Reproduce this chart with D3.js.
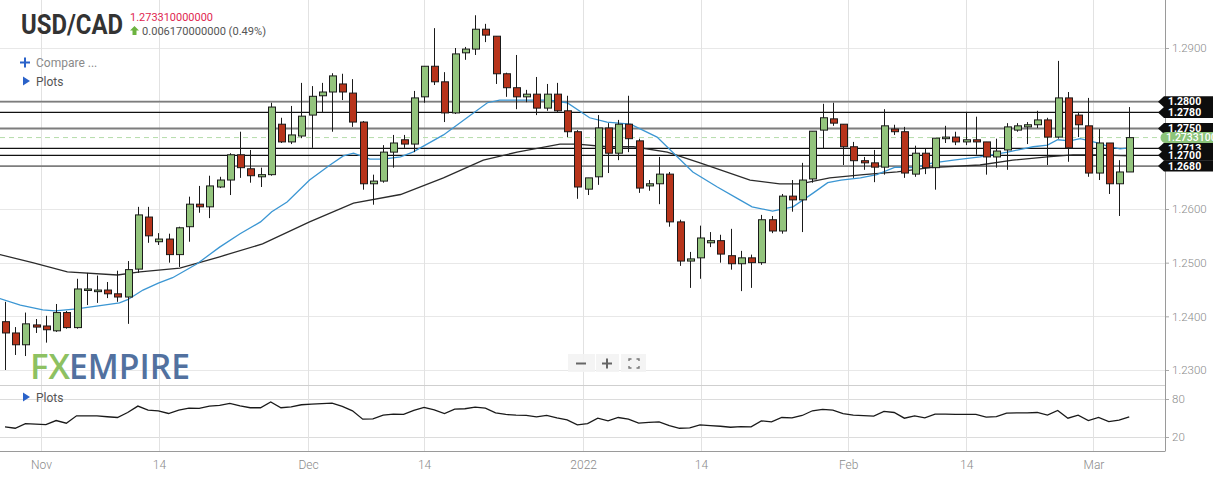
<!DOCTYPE html>
<html>
<head>
<meta charset="utf-8">
<script src="https://cdn.jsdelivr.net/npm/d3@7.9.0/dist/d3.min.js"></script>
<style>
  html, body { margin: 0; padding: 0; background: #fff; }
  svg { display: block; font-family: Roboto, 'Noto Sans', sans-serif; }
</style>
</head>
<body>
<svg id="chart" width="1213" height="482"></svg>
<script>
// daily USD/CAD candles, Oct 29 2021 .. Mar 4 2022 (index = candle number)
const opens = [
  1.2390, 1.2369, 1.2347, 1.2384, 1.2382, 1.2373, 1.2407, 1.2379, 1.2449, 1.2446,
  1.2449, 1.2442, 1.2436, 1.2488, 1.2585, 1.2539, 1.2544, 1.2515, 1.2567, 1.2609,
  1.2604, 1.2641, 1.2654, 1.2701, 1.2675, 1.2660, 1.2664, 1.2758, 1.2725, 1.2736,
  1.2775, 1.2811, 1.2818, 1.2833, 1.2816, 1.2762, 1.2647, 1.2652, 1.2706, 1.2729,
  1.2721, 1.2809, 1.2866, 1.2837, 1.2779, 1.2891, 1.2898, 1.2935, 1.2922, 1.2852,
  1.2826, 1.2809, 1.2814, 1.2788, 1.2814, 1.2783, 1.2744, 1.2637, 1.2660, 1.2751,
  1.2704, 1.2758, 1.2727, 1.2643, 1.2647, 1.2665, 1.2576, 1.2503, 1.2509, 1.2537,
  1.2541, 1.2513, 1.2498, 1.2509, 1.2500, 1.2580, 1.2559, 1.2624, 1.2617, 1.2656,
  1.2747, 1.2768, 1.2758, 1.2716, 1.2690, 1.2686, 1.2678, 1.2749, 1.2744, 1.2665,
  1.2704, 1.2677, 1.2731, 1.2734, 1.2725, 1.2729, 1.2725, 1.2697, 1.2710, 1.2747,
  1.2753, 1.2757, 1.2766, 1.2734, 1.2807, 1.2775, 1.2755, 1.2667, 1.2723, 1.2647,
  1.2669
];
const highs = [
  1.2427, 1.2380, 1.2407, 1.2395, 1.2401, 1.2423, 1.2410, 1.2470, 1.2481, 1.2476,
  1.2464, 1.2485, 1.2503, 1.2604, 1.2604, 1.2555, 1.2554, 1.2567, 1.2623, 1.2643,
  1.2662, 1.2660, 1.2704, 1.2744, 1.2710, 1.2677, 1.2798, 1.2770, 1.2792, 1.2835,
  1.2829, 1.2835, 1.2853, 1.2852, 1.2842, 1.2764, 1.2664, 1.2719, 1.2738, 1.2738,
  1.2820, 1.2866, 1.2937, 1.2855, 1.2900, 1.2902, 1.2961, 1.2945, 1.2922, 1.2854,
  1.2887, 1.2822, 1.2846, 1.2833, 1.2835, 1.2811, 1.2747, 1.2658, 1.2775, 1.2760,
  1.2766, 1.2811, 1.2731, 1.2654, 1.2697, 1.2669, 1.2580, 1.2520, 1.2569, 1.2557,
  1.2552, 1.2563, 1.2522, 1.2515, 1.2589, 1.2587, 1.2628, 1.2654, 1.2686, 1.2745,
  1.2796, 1.2798, 1.2758, 1.2725, 1.2697, 1.2710, 1.2786, 1.2757, 1.2753, 1.2718,
  1.2712, 1.2732, 1.2755, 1.2744, 1.2781, 1.2772, 1.2725, 1.2731, 1.2760, 1.2760,
  1.2762, 1.2783, 1.2770, 1.2876, 1.2818, 1.2781, 1.2807, 1.2749, 1.2723, 1.2691,
  1.2790
];
const lows = [
  1.2300, 1.2328, 1.2326, 1.2369, 1.2351, 1.2371, 1.2377, 1.2377, 1.2421, 1.2425,
  1.2434, 1.2427, 1.2386, 1.2481, 1.2537, 1.2533, 1.2500, 1.2492, 1.2539, 1.2593,
  1.2583, 1.2639, 1.2626, 1.2658, 1.2649, 1.2641, 1.2662, 1.2723, 1.2721, 1.2732,
  1.2714, 1.2779, 1.2744, 1.2803, 1.2753, 1.2636, 1.2608, 1.2649, 1.2677, 1.2714,
  1.2706, 1.2798, 1.2831, 1.2762, 1.2777, 1.2878, 1.2887, 1.2911, 1.2833, 1.2809,
  1.2786, 1.2799, 1.2775, 1.2783, 1.2779, 1.2734, 1.2619, 1.2626, 1.2645, 1.2667,
  1.2691, 1.2706, 1.2630, 1.2634, 1.2609, 1.2567, 1.2494, 1.2453, 1.2470, 1.2529,
  1.2500, 1.2487, 1.2447, 1.2453, 1.2496, 1.2555, 1.2554, 1.2595, 1.2557, 1.2649,
  1.2712, 1.2755, 1.2682, 1.2658, 1.2673, 1.2650, 1.2664, 1.2738, 1.2658, 1.2660,
  1.2665, 1.2636, 1.2723, 1.2719, 1.2719, 1.2701, 1.2664, 1.2677, 1.2673, 1.2744,
  1.2721, 1.2751, 1.2682, 1.2731, 1.2688, 1.2734, 1.2660, 1.2654, 1.2628, 1.2587,
  1.2669
];
const closes = [
  1.2369, 1.2347, 1.2386, 1.2380, 1.2375, 1.2407, 1.2379, 1.2451, 1.2451, 1.2449,
  1.2442, 1.2436, 1.2487, 1.2589, 1.2550, 1.2544, 1.2515, 1.2565, 1.2609, 1.2604,
  1.2643, 1.2654, 1.2701, 1.2677, 1.2662, 1.2664, 1.2790, 1.2725, 1.2738, 1.2773,
  1.2810, 1.2818, 1.2848, 1.2818, 1.2762, 1.2647, 1.2652, 1.2706, 1.2723, 1.2721,
  1.2807, 1.2866, 1.2837, 1.2779, 1.2889, 1.2898, 1.2935, 1.2924, 1.2852, 1.2826,
  1.2809, 1.2814, 1.2788, 1.2814, 1.2783, 1.2744, 1.2641, 1.2658, 1.2751, 1.2704,
  1.2758, 1.2731, 1.2639, 1.2647, 1.2665, 1.2576, 1.2503, 1.2507, 1.2546, 1.2541,
  1.2516, 1.2498, 1.2509, 1.2500, 1.2580, 1.2559, 1.2624, 1.2617, 1.2654, 1.2745,
  1.2770, 1.2760, 1.2716, 1.2690, 1.2686, 1.2678, 1.2755, 1.2744, 1.2667, 1.2704,
  1.2677, 1.2732, 1.2734, 1.2725, 1.2729, 1.2725, 1.2697, 1.2708, 1.2753, 1.2755,
  1.2757, 1.2766, 1.2734, 1.2807, 1.2714, 1.2757, 1.2667, 1.2723, 1.2647, 1.2669,
  1.2733
];

// moving averages: [candle index, price]
const maFast = [
  [-0.5, 1.2433], [1.5, 1.2421], [3.7, 1.2412], [4.9, 1.2410], [7, 1.2414], [9.3, 1.2420],
  [11.2, 1.2425], [12, 1.2431], [13.5, 1.2449], [15, 1.2462], [16.4, 1.2472], [18.8, 1.2498],
  [21, 1.2529], [23, 1.2554], [25, 1.2576], [26.1, 1.2595], [27.6, 1.2613], [29.8, 1.2654],
  [31.8, 1.2682], [33.1, 1.2699], [34.1, 1.2704], [35.7, 1.2693], [37, 1.2693], [38.7, 1.2697],
  [39.9, 1.2706], [42.9, 1.2738], [45.2, 1.2770], [47.2, 1.2798], [48.4, 1.2803], [53.3, 1.2803],
  [55, 1.2798], [57.2, 1.2770], [58.9, 1.2762], [61.2, 1.2758], [63.8, 1.2734], [65.8, 1.2697],
  [67.3, 1.2669], [69.7, 1.2641], [71.9, 1.2617], [73.1, 1.2604], [75.1, 1.2596], [77.1, 1.2604],
  [79.1, 1.2630], [80.5, 1.2649], [81.8, 1.2654], [83.7, 1.2658], [85.3, 1.2664], [87.1, 1.2678],
  [88.9, 1.2677], [90.8, 1.2686], [92.8, 1.2691], [95.4, 1.2697], [98.1, 1.2706], [100.6, 1.2716],
  [102, 1.2719], [103, 1.2729], [104.2, 1.2727], [105.2, 1.2731], [106.9, 1.2723], [108.1, 1.2716],
  [109.1, 1.2712], [110, 1.2714]
];
const maSlow = [
  [-0.5, 1.2515], [2.7, 1.2500], [6.1, 1.2483], [11, 1.2477], [13.2, 1.2483], [17.1, 1.2490],
  [21, 1.2511], [25.2, 1.2535], [29.8, 1.2576], [34.1, 1.2611], [38.7, 1.2627], [42.9, 1.2658],
  [46.8, 1.2691], [50.1, 1.2706], [54.3, 1.2721], [56, 1.2721], [58.9, 1.2716], [61.5, 1.2716],
  [64.8, 1.2706], [68, 1.2686], [72.9, 1.2654], [75.8, 1.2647], [77.8, 1.2647], [80.7, 1.2658],
  [84, 1.2664], [87.3, 1.2669], [90.5, 1.2677], [95.4, 1.2682], [98.6, 1.2691], [102, 1.2697],
  [104.5, 1.2701], [106.9, 1.2701], [110, 1.2699]
];

// lower panel oscillator, one value per candle
const oscValues = [
  36.0, 33.8, 41.2, 40.4, 39.6, 46.0, 41.8, 53.4, 53.4, 53.4,
  52.0, 50.8, 58.7, 68.8, 62.5, 61.4, 57.1, 62.5, 65.7, 65.1,
  68.8, 69.9, 73.0, 69.3, 66.2, 66.2, 75.2, 66.2, 67.7, 70.9,
  72.0, 72.8, 73.6, 68.3, 61.4, 48.1, 48.6, 54.5, 56.0, 55.6,
  61.9, 66.7, 63.0, 57.1, 64.1, 64.6, 67.2, 65.7, 58.2, 55.6,
  54.5, 54.0, 51.8, 54.0, 50.2, 47.0, 39.1, 41.2, 49.7, 45.5,
  50.8, 48.1, 41.8, 43.0, 43.9, 38.0, 33.8, 34.3, 39.1, 38.0,
  37.0, 35.4, 36.4, 35.9, 45.5, 43.9, 50.8, 50.2, 54.0, 61.4,
  63.5, 62.5, 57.0, 54.5, 53.7, 52.9, 60.3, 58.7, 49.7, 53.4,
  50.2, 56.1, 56.1, 55.6, 55.6, 55.6, 51.3, 52.3, 57.7, 58.0,
  58.2, 58.7, 54.5, 61.9, 49.7, 54.5, 46.0, 50.8, 44.4, 46.5,
  51.8
];

// axis ticks
const dateTickPos = [3.52, 15.07, 29.65, 41.0, 56.57, 68.1, 82.5, 94.05, 106.5];
const dateTickLabels = ['Nov', '14', 'Dec', '14', '2022', '14', 'Feb', '14', 'Mar'];
const priceTicks = [1.23, 1.24, 1.25, 1.26, 1.27, 1.28, 1.29];
const oscTicks = [20, 80];

// support / resistance levels and last price
const levels = [1.2713, 1.2800, 1.2780, 1.2750, 1.2700, 1.2680];
const lastPrice = 1.27331;
const lastChange = 0.00617;
const lastChangePct = 0.49;

// ---- layout ----
const W = 1213, H = 482;
const plotRight = 1165, axisBottom = 451, oscTop = 385;

const svg = d3.select('#chart');
const x = d3.scaleLinear().domain([-0.49, 113.5]).range([0, plotRight]);
const y = d3.scaleLinear().domain([1.23, 1.29]).range([370, 48]);
const yOsc = d3.scaleLinear().domain([20, 80]).range([437, 399]);

const crisp = (v) => Math.round(v) + 0.5;

svg.append('defs').append('clipPath').attr('id', 'plotClip')
  .append('rect').attr('x', 0).attr('y', 0).attr('width', plotRight).attr('height', oscTop);

// 1. grid
const grid = svg.append('g');
grid.selectAll('line.h').data(priceTicks).join('line')
  .attr('class', 'h')
  .attr('x1', 0).attr('x2', plotRight)
  .attr('y1', (d) => crisp(y(d))).attr('y2', (d) => crisp(y(d)))
  .attr('stroke', '#e8e8e8');
grid.selectAll('line.o').data(oscTicks).join('line')
  .attr('class', 'o')
  .attr('x1', 0).attr('x2', plotRight)
  .attr('y1', (d) => crisp(yOsc(d))).attr('y2', (d) => crisp(yOsc(d)))
  .attr('stroke', '#dcdcdc');
grid.selectAll('line.v').data(dateTickPos).join('line')
  .attr('class', 'v')
  .attr('x1', (d) => crisp(x(d))).attr('x2', (d) => crisp(x(d)))
  .attr('y1', 0).attr('y2', axisBottom)
  .attr('stroke', '#e2e2e2');
grid.append('line')
  .attr('x1', 0).attr('x2', plotRight).attr('y1', oscTop + 0.5).attr('y2', oscTop + 0.5)
  .attr('stroke', '#cfcfcf');

// 2. axes
const yAxis = svg.append('g')
  .attr('transform', `translate(${plotRight},0)`)
  .call(d3.axisRight(y).tickValues(priceTicks).tickSize(4).tickPadding(3).tickFormat(d3.format('.4f')));
const oscAxis = svg.append('g')
  .attr('transform', `translate(${plotRight},0)`)
  .call(d3.axisRight(yOsc).tickValues(oscTicks).tickSize(4).tickPadding(3));
const xAxis = svg.append('g')
  .attr('transform', `translate(0,${axisBottom})`)
  .call(d3.axisBottom(x).tickValues(dateTickPos).tickSize(0).tickPadding(9)
    .tickFormat((d, i) => dateTickLabels[i]));
[yAxis, oscAxis, xAxis].forEach((g) => {
  g.select('.domain').remove();
  g.selectAll('.tick line').attr('stroke', '#aaa');
  g.selectAll('.tick text')
    .attr('fill', '#8a8a8a')
    .style('font-family', 'Roboto, sans-serif')
    .style('font-weight', 300)
    .style('font-size', '11.5px');
});
xAxis.selectAll('.tick text').style('font-size', '12px');
svg.append('line')
  .attr('x1', plotRight + 0.5).attr('x2', plotRight + 0.5).attr('y1', 0).attr('y2', axisBottom)
  .attr('stroke', '#9a9a9a');
svg.append('line')
  .attr('x1', 0).attr('x2', plotRight + 0.5).attr('y1', axisBottom + 0.5).attr('y2', axisBottom + 0.5)
  .attr('stroke', '#9a9a9a');

// 3. horizontal levels and last price
const plot = svg.append('g').attr('clip-path', 'url(#plotClip)');
const isGreyLevel = (v) => v === 1.28 || v === 1.275 || v === 1.268;
plot.selectAll('line.level').data(levels).join('line')
  .attr('class', 'level')
  .attr('x1', 0).attr('x2', plotRight)
  .attr('y1', (d) => y(d)).attr('y2', (d) => y(d))
  .attr('stroke', (d) => (isGreyLevel(d) ? '#7d7d7d' : '#111'))
  .attr('stroke-width', (d) => (isGreyLevel(d) ? 1.8 : 1.3));
plot.append('line')
  .attr('x1', 0).attr('x2', plotRight)
  .attr('y1', y(lastPrice)).attr('y2', y(lastPrice))
  .attr('stroke', '#b5dcaa').attr('stroke-dasharray', '5,4');

// 4. moving averages
const maLine = d3.line().x((d) => x(d[0])).y((d) => y(d[1]));
plot.append('path').datum(maSlow)
  .attr('d', maLine).attr('fill', 'none').attr('stroke', '#2b2b2b').attr('stroke-width', 1.3);
plot.append('path').datum(maFast)
  .attr('d', maLine).attr('fill', 'none').attr('stroke', '#3b96d3').attr('stroke-width', 1.3);

// 5. candles
const candles = opens.map((o, i) => ({ i, o, h: highs[i], l: lows[i], c: closes[i] }));
plot.selectAll('line.wick').data(candles).join('line')
  .attr('class', 'wick')
  .attr('x1', (d) => crisp(x(d.i))).attr('x2', (d) => crisp(x(d.i)))
  .attr('y1', (d) => y(d.h)).attr('y2', (d) => y(d.l))
  .attr('stroke', '#1a1a1a');
plot.selectAll('rect.body').data(candles).join('rect')
  .attr('class', 'body')
  .attr('x', (d) => Math.round(x(d.i)) - 3 + 0.5)
  .attr('width', 7)
  .attr('y', (d) => y(Math.max(d.o, d.c)))
  .attr('height', (d) => Math.max(1.5, Math.abs(y(d.o) - y(d.c))))
  .attr('fill', (d) => (d.c >= d.o ? '#93c47d' : '#b7341b'))
  .attr('stroke', '#1a1a1a');

// 6. oscillator
svg.append('path').datum(oscValues)
  .attr('d', d3.line().x((d, i) => x(i)).y((d) => yOsc(d)))
  .attr('fill', 'none').attr('stroke', '#1a1a1a').attr('stroke-width', 1.3);

// 7. level tags on the right (they overlap, like the original)
const tagH = 5.5;
const tags = svg.append('g').style('font-size', '10.5px');
levels.forEach((v) => {
  const yc = y(v);
  tags.append('path')
    .attr('d', `M1158,${yc} L1164,${yc - tagH} H${W} V${yc + tagH} H1164 Z`)
    .attr('fill', '#0d0d0d');
  tags.append('text')
    .attr('x', 1168).attr('y', yc).attr('dy', '0.36em')
    .attr('fill', '#fff').style('font-weight', 700)
    .text(d3.format('.4f')(v));
});
const yl = y(lastPrice);
tags.append('path')
  .attr('d', `M1166,${yl - 5.5} H${W} V${yl + 5.5} H1166 A5.5,5.5 0 0 1 1166,${yl - 5.5} Z`)
  .attr('fill', '#8cc47a');
tags.append('text')
  .attr('x', 1166).attr('y', yl).attr('dy', '0.36em')
  .attr('fill', '#fff').style('font-weight', 500)
  .text(lastPrice.toFixed(12));

// 8. header
svg.append('text')
  .attr('x', 21).attr('y', 34)
  .attr('textLength', 102).attr('lengthAdjust', 'spacingAndGlyphs')
  .attr('fill', '#333').style('font-size', '27px').style('font-weight', 700)
  .text('USD/CAD');
svg.append('text')
  .attr('x', 130).attr('y', 21)
  .attr('textLength', 83).attr('lengthAdjust', 'spacingAndGlyphs')
  .attr('fill', '#e0264f').style('font-size', '11.5px')
  .text(lastPrice.toFixed(12));
svg.append('path')
  .attr('d', 'M134.5,26 L139,30.5 H136.5 V35 H132.5 V30.5 H130 Z')
  .attr('fill', '#6cb33f');
svg.append('text')
  .attr('x', 142).attr('y', 35)
  .attr('textLength', 124).attr('lengthAdjust', 'spacingAndGlyphs')
  .attr('fill', '#555').style('font-size', '11.5px')
  .text(`${lastChange.toFixed(12)} (${lastChangePct.toFixed(2)}%)`);

// compare / plots controls
svg.append('path').attr('d', 'M25,57.5 V67.5 M20,62.5 H30')
  .attr('stroke', '#2a62c9').attr('stroke-width', 2);
svg.append('text').attr('x', 36).attr('y', 67)
  .attr('fill', '#8a8a8a').style('font-size', '12px').text('Compare ...');
[81, 397].forEach((yy) => {
  svg.append('path').attr('d', `M23,${yy - 4.5} L30,${yy} L23,${yy + 4.5} Z`).attr('fill', '#2a62c9');
  svg.append('text').attr('x', 36).attr('y', yy + 4.5)
    .attr('fill', '#555').style('font-size', '12px').text('Plots');
});

// 9. watermark logo
const logo = svg.append('g')
  .style('font-family', "'Open Sans', sans-serif").style('font-size', '34px').style('font-weight', 600);
logo.append('text').attr('x', 30).attr('y', 379)
  .attr('textLength', 40).attr('lengthAdjust', 'spacingAndGlyphs')
  .attr('fill', '#8dc162').text('FX');
logo.append('text').attr('x', 69).attr('y', 379)
  .attr('textLength', 121).attr('lengthAdjust', 'spacingAndGlyphs')
  .attr('fill', '#52719f').text('EMPIRE');

// 10. zoom buttons
const btns = svg.append('g');
[[568, 27], [596, 23], [621, 25]].forEach(([bx, bw]) => {
  btns.append('rect').attr('x', bx).attr('y', 354).attr('width', bw).attr('height', 18)
    .attr('fill', '#f3f3f3').attr('fill-opacity', 0.9);
});
btns.append('path').attr('d', 'M576,363.5 H586').attr('stroke', '#666').attr('stroke-width', 2);
btns.append('path').attr('d', 'M602,363.5 H612 M607,358.5 V368.5').attr('stroke', '#666').attr('stroke-width', 2);
btns.append('path')
  .attr('d', 'M629,361 V359 H631.5 M636.5,359 H639 V361 M639,366 V368 H636.5 M631.5,368 H629 V366')
  .attr('fill', 'none').attr('stroke', '#777').attr('stroke-width', 1.4);
</script>
</body>
</html>
